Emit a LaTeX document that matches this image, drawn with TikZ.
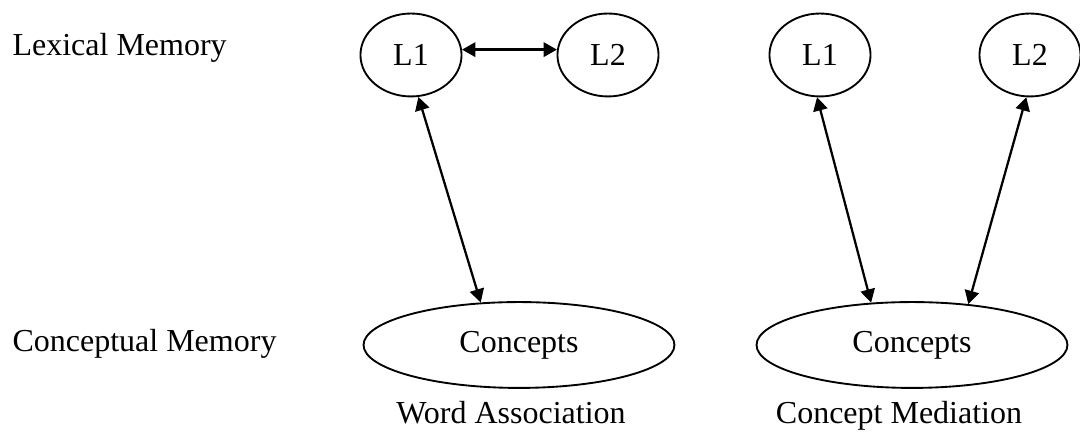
\documentclass[tikz,border=0pt]{standalone}
\usepackage{fontspec}
\setmainfont{Liberation Serif}
\usetikzlibrary{arrows.meta,shapes.geometric}

\tikzset{
  txt/.style={inner sep=0pt,font=\fontsize{12pt}{14pt}\selectfont},
  lang/.style={txt,draw,ellipse,line width=0.7pt,minimum width=37.9pt,minimum height=31.1pt},
  concept/.style={txt,draw,ellipse,line width=0.7pt,minimum width=116.6pt,minimum height=32.2pt},
  link/.style={{Triangle[length=5pt,width=5.4pt]}-{Triangle[length=5pt,width=5.4pt]},line width=0.85pt}
}

\begin{document}
\begin{tikzpicture}
[x=0.375pt,y=-0.375pt]
\useasboundingbox (0,0) rectangle (1080,432);

\node[txt,anchor=base west] (lex) at (12,56) {Lexical Memory};
\node[txt,anchor=base west] (conc) at (12,352) {Conceptual Memory};

% word association
\node[lang] (L1a) at (411,55) {L1};
\node[lang] (L2a) at (608,55) {L2};
\node[concept] (Ca) at (519,345) {Concepts};
\node[txt,anchor=base] (wa) at (511,424) {Word Association};

\draw[link] (L1a.6) -- (L2a.174);
\draw[link] (L1a.-80) -- (Ca.132);

% concept mediation
\node[lang] (L1b) at (820,55) {L1};
\node[lang] (L2b) at (1030,55) {L2};
\node[concept] (Cb) at (912,345) {Concepts};
\node[txt,anchor=base] (cm) at (899,424) {Concept Mediation};

\draw[link] (L1b.-94) -- (Cb.134);
\draw[link] (L2b.-95) -- (Cb.36);
\end{tikzpicture}
\end{document}
